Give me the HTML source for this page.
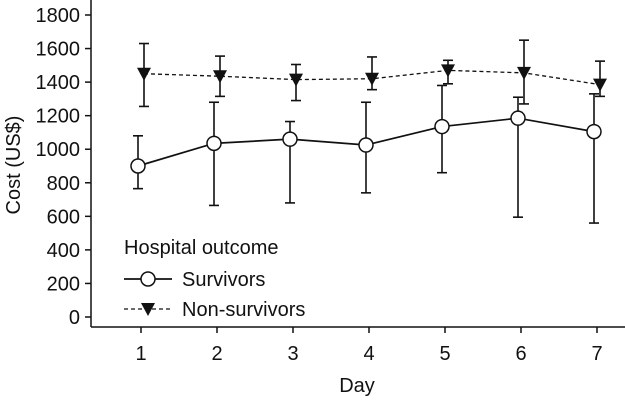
<!DOCTYPE html>
<html><head><meta charset="utf-8"><style>
body{margin:0;background:#fff}
svg text{font-family:"Liberation Sans",Arial,sans-serif;fill:#111}
</style></head><body>
<svg id="c" width="625" height="400" xmlns="http://www.w3.org/2000/svg"></svg>
<script>
const days=[1,2,3,4,5,6,7];
const yTicks=[0,200,400,600,800,1000,1200,1400,1600,1800];
const survMean=[900,1035,1060,1025,1135,1185,1105];
const survHi=[1080,1280,1165,1280,1380,1310,1330];
const survLo=[765,665,680,740,860,595,560];
const nonMean=[1450,1435,1415,1420,1470,1455,1385];
const nonHi=[1630,1555,1505,1550,1530,1650,1525];
const nonLo=[1255,1315,1290,1355,1390,1270,1315];

const svg=document.getElementById('c');const NS='http://www.w3.org/2000/svg';
function X(d){return 141+(d-1)*76;}
function Y(v){return 317-v*(302/1800);}
function el(t,a,p){const e=document.createElementNS(NS,t);for(const k in a)e.setAttribute(k,a[k]);(p||svg).appendChild(e);return e;}
let e;
e=el('line',{x1:91,y1:0,x2:91,y2:327,stroke:'#111','stroke-width':1.5});


e=el('line',{x1:91,y1:327,x2:625,y2:327,stroke:'#111','stroke-width':1.5});


yTicks.forEach(v=>{
 el('line',{x1:85,y1:Y(v),x2:91,y2:Y(v),stroke:'#111','stroke-width':1.5});
 e=el('text',{x:80,y:Y(v)+7,'text-anchor':'end','font-size':20});e.textContent=v;
 
 
});
days.forEach(d=>{
 el('line',{x1:X(d),y1:327,x2:X(d),y2:333,stroke:'#111','stroke-width':1.5});
 e=el('text',{x:X(d),y:360,'text-anchor':'middle','font-size':20});e.textContent=d;
 
 
});
e=el('text',{x:357,y:392,'text-anchor':'middle','font-size':20});e.textContent='Day';


e=el('text',{x:0,y:0,'text-anchor':'middle','font-size':20,transform:'translate(20,165) rotate(-90)'});e.textContent='Cost (US$)';


function err(x,hi,lo){
 el('line',{x1:x,y1:Y(hi),x2:x,y2:Y(lo),stroke:'#111','stroke-width':1.6});
 el('line',{x1:x-5,y1:Y(hi),x2:x+5,y2:Y(hi),stroke:'#111','stroke-width':1.6});
 el('line',{x1:x-5,y1:Y(lo),x2:x+5,y2:Y(lo),stroke:'#111','stroke-width':1.6});
}
const off=3;
days.forEach((d,i)=>{err(X(d)+off,nonHi[i],nonLo[i]);err(X(d)-off,survHi[i],survLo[i]);});
e=el('polyline',{points:days.map((d,i)=>(X(d)+off)+','+Y(nonMean[i])).join(' '),fill:'none',stroke:'#111','stroke-width':1.3,'stroke-dasharray':'4,3'});


e=el('polyline',{points:days.map((d,i)=>(X(d)-off)+','+Y(survMean[i])).join(' '),fill:'none',stroke:'#111','stroke-width':1.7});


function tri(x,y){return el('polygon',{points:`${x-7},${y-6} ${x+7},${y-6} ${x},${y+7}`,fill:'#111'});}
days.forEach((d,i)=>{
 e=tri(X(d)+off,Y(nonMean[i]));
 
 
 e=el('circle',{cx:X(d)-off,cy:Y(survMean[i]),r:7,fill:'#fff',stroke:'#111','stroke-width':1.5});
 
 
});
e=el('text',{x:124,y:254,'font-size':20});e.textContent='Hospital outcome';


el('line',{x1:124,y1:279,x2:172,y2:279,stroke:'#111','stroke-width':1.7});
el('circle',{cx:148,cy:279,r:7,fill:'#fff',stroke:'#111','stroke-width':1.5});
e=el('text',{x:182,y:286,'font-size':20});e.textContent='Survivors';


el('line',{x1:124,y1:309,x2:172,y2:309,stroke:'#111','stroke-width':1.3,'stroke-dasharray':'4,3'});
tri(148,309);
e=el('text',{x:182,y:316,'font-size':20});e.textContent='Non-survivors';


</script>
</body></html>
